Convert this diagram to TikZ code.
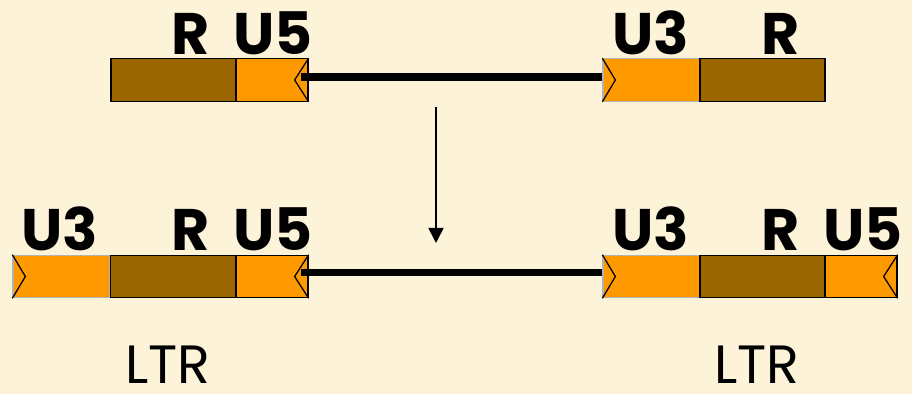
\documentclass[tikz,border=0pt]{standalone}
\usepackage{fontspec}
\setmainfont{Poppins}
\usepackage{tikz}
\usetikzlibrary{calc,positioning,arrows.meta}
\definecolor{ltrbrown}{RGB}{153,102,0}
\definecolor{ltrorange}{RGB}{255,153,0}
\definecolor{paper}{RGB}{252,243,217}
\begin{document}
\begin{tikzpicture}[x=0.03cm,y=-0.03cm,
    seg/.style={inner sep=0pt,minimum height=1.27cm,line width=1.1pt},
    rr/.style={seg,draw=black,fill=ltrbrown,minimum width=3.75cm},
    uf/.style={seg,draw=black,fill=ltrorange,minimum width=2.16cm},
    ut/.style={seg,draw=gray!60,fill=ltrorange,minimum width=2.91cm},
    chev/.style={line width=1.1pt},
    conn/.style={line width=6pt},
    lbl/.style={anchor=base,font=\fontsize{50}{54}\selectfont\bfseries,inner sep=0pt},
    ltr/.style={anchor=base,font=\fontsize{46}{50}\selectfont,inner sep=0pt}]
    \fill[paper] (0,0) rectangle (912,394);
    % top row
    \node[rr] (r1) at (173.5,80) {};
    \node[uf] (u51) at (272,80) {};
    \node[ut] (u31) at (651.5,80) {};
    \node[rr] (r2) at (762.5,80) {};
    % bottom row
    \node[ut] (u32) at (61.5,276.5) {};
    \node[rr] (r3) at (173,276.5) {};
    \node[uf] (u52) at (272,276.5) {};
    \node[ut] (u33) at (651.5,276.5) {};
    \node[rr] (r4) at (762.5,276.5) {};
    \node[uf] (u53) at (861,276.5) {};
    % chevrons
    \foreach \b in {u51,u52,u53}
        \draw[chev] (\b.north east) -- ([xshift=-0.42cm]\b.east) -- (\b.south east);
    \foreach \b in {u31,u32,u33}
        \draw[chev] (\b.north west) -- ([xshift=0.39cm]\b.west) -- (\b.south west);
    % linkers
    \draw[conn] ([xshift=-0.24cm,yshift=0.09cm]u51.east) -- ([yshift=0.09cm]u31.west);
    \draw[conn] ([xshift=-0.24cm,yshift=0.12cm]u52.east) -- ([yshift=0.12cm]u33.west);
    % labels
    \node[lbl] (t1) at (191,55) {R};
    \node[lbl] (t2) at (273,55) {U5};
    \node[lbl] (t3) at (651,55) {U3};
    \node[lbl] (t4) at (781,55) {R};
    \node[lbl] (t5) at (60,250) {U3};
    \node[lbl] (t6) at (191,250) {R};
    \node[lbl] (t7) at (273,250) {U5};
    \node[lbl] (t8) at (651,250) {U3};
    \node[lbl] (t9) at (781,250) {R};
    \node[lbl] (t10) at (863,250) {U5};
    \node[ltr] (l1) at (168,383) {LTR};
    \node[ltr] (l2) at (757,383) {LTR};
    % step arrow
    \coordinate (s) at (436,107);
    \coordinate (e) at (436,243);
    \draw[line width=1.3pt,-{Triangle[width=0.45cm,length=0.45cm]}] (s) -- (e);
\end{tikzpicture}
\end{document}
